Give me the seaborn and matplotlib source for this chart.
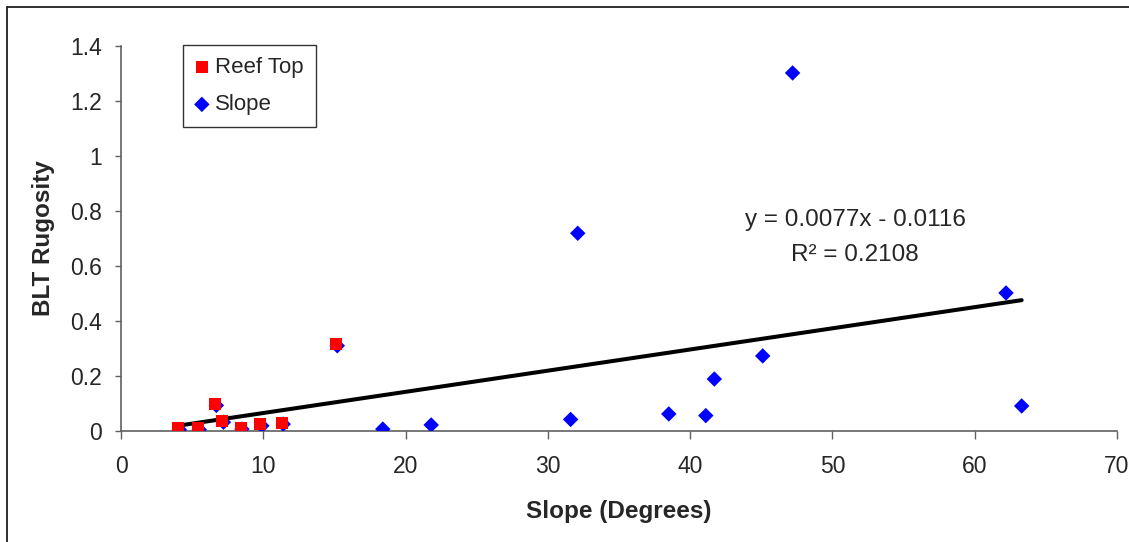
import numpy as np
import pandas as pd
import seaborn as sns
import matplotlib.pyplot as plt
from matplotlib.lines import Line2D
from matplotlib.ticker import FuncFormatter

# reef top sites
reef_x = [4.0, 5.4, 6.6, 7.1, 8.4, 9.8, 11.3, 15.1]
reef_y = [0.010, 0.010, 0.098, 0.037, 0.012, 0.024, 0.030, 0.315]

# slope sites (first eight sit just under the reef top squares)
slope_x = [4.1, 5.5, 6.7, 7.2, 8.5, 9.9, 11.4, 15.2,
           18.4, 21.8, 31.6, 32.1, 38.5, 41.1, 41.7, 45.1, 47.2, 62.2, 63.3]
slope_y = [0.005, 0.005, 0.093, 0.032, 0.007, 0.019, 0.025, 0.310,
           0.007, 0.022, 0.042, 0.719, 0.062, 0.056, 0.189, 0.273, 1.302, 0.502, 0.091]

# linear trend shown on the chart
trend_slope = 0.0077
trend_icept = -0.0116
eq_lines = ["y = 0.0077x - 0.0116", "R² = 0.2108"]

reef = pd.DataFrame({"x": reef_x, "y": reef_y})
slope = pd.DataFrame({"x": slope_x, "y": slope_y})

sns.set_style("white")
plt.rcParams["font.family"] = ["Liberation Sans", "DejaVu Sans"]

fig = plt.figure(figsize=(11.29, 5.42), dpi=100)
ax = fig.add_axes([121 / 1129, 1 - 431 / 542, 996 / 1129, 385 / 542])

sns.scatterplot(data=slope, x="x", y="y", marker="D", color="#0000ff", s=62,
                edgecolor="none", linewidth=0, ax=ax, label="Slope", zorder=3)
sns.scatterplot(data=reef, x="x", y="y", marker="s", color="#ff0000", s=75,
                edgecolor="none", linewidth=0, ax=ax, label="Reef Top", zorder=4)

all_x = np.array(reef_x + slope_x[8:])
xs = np.array([all_x.min(), all_x.max()])
trend = pd.DataFrame({"x": xs, "y": trend_slope * xs + trend_icept})
sns.lineplot(data=trend, x="x", y="y", color="black", linewidth=2.9, ax=ax, zorder=2)

ax.text(51.6, 0.767, eq_lines[0], ha="center", va="center", fontsize=17.5)
ax.text(51.6, 0.64, eq_lines[1], ha="center", va="center", fontsize=17.5)

ax.set_xlim(0, 70)
ax.set_ylim(0, 1.4)
ax.set_xticks(range(0, 71, 10))
ax.set_yticks(np.arange(0, 1.41, 0.2))
ax.yaxis.set_major_formatter(FuncFormatter(lambda v, p: f"{v:g}"))

for side in ["top", "right"]:
    ax.spines[side].set_visible(False)
for side in ["left", "bottom"]:
    ax.spines[side].set_color("#606060")
    ax.spines[side].set_linewidth(1.2)
ax.tick_params(axis="y", left=True, length=4.5, width=1, color="#606060",
               labelsize=16.5, pad=9)
ax.tick_params(axis="x", bottom=True, length=5.5, width=1, color="#606060",
               labelsize=16.5, pad=12)

ax.set_xlabel("Slope (Degrees)", fontsize=17.5, fontweight="bold")
ax.set_ylabel("BLT Rugosity", fontsize=17.5, fontweight="bold")
ax.xaxis.set_label_coords(0.5, -0.18)
ax.yaxis.set_label_coords(-0.066, 0.5)

handles, labels = ax.get_legend_handles_labels()
order = [labels.index("Reef Top"), labels.index("Slope")]
leg = ax.legend([handles[i] for i in order], [labels[i] for i in order],
                loc="upper left", bbox_to_anchor=(0.0622, 1.0026),
                borderaxespad=0, fontsize=16, frameon=True, fancybox=False,
                edgecolor="black", handlelength=0.6, handletextpad=0.3,
                labelspacing=0.72, borderpad=0.55)
leg.get_frame().set_linewidth(1)

# outer chart frame (cropped on the right and bottom)
fig.add_artist(Line2D([7 / 1129, 1.0], [1 - 7 / 542, 1 - 7 / 542],
                      transform=fig.transFigure, color="#202020", linewidth=1.3))
fig.add_artist(Line2D([7 / 1129, 7 / 1129], [0.0, 1 - 7 / 542],
                      transform=fig.transFigure, color="#202020", linewidth=1.3))

plt.savefig("out.png")
plt.close()
